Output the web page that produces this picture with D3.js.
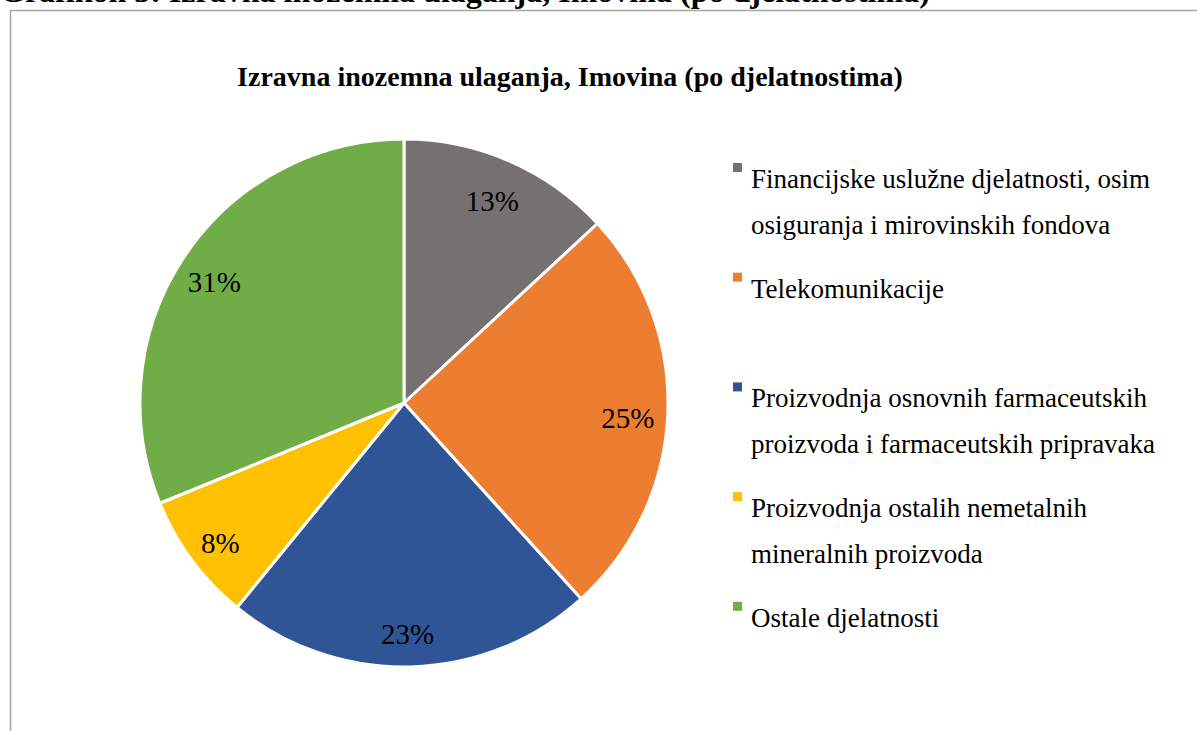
<!DOCTYPE html>
<meta charset="utf-8">
<style>
body { margin: 0; background: #fff; }
svg { display: block; font-family: "Liberation Serif", "Times New Roman", serif; }
.title { font-weight: bold; font-size: 28px; }
.pct { font-size: 29px; }
.legend text { font-size: 27px; }
</style>
<body>
<svg id="chart" width="1197" height="731"></svg>
<script src="https://d3js.org/d3.v7.min.js"></script>
<script>

// data
var categories = [
  "Financijske uslužne djelatnosti, osim osiguranja i mirovinskih fondova",
  "Telekomunikacije",
  "Proizvodnja osnovnih farmaceutskih proizvoda i farmaceutskih pripravaka",
  "Proizvodnja ostalih nemetalnih mineralnih proizvoda",
  "Ostale djelatnosti"
];
var legendLines = [
  ["Financijske uslužne djelatnosti, osim", "osiguranja i mirovinskih fondova"],
  ["Telekomunikacije"],
  ["Proizvodnja osnovnih farmaceutskih", "proizvoda i farmaceutskih pripravaka"],
  ["Proizvodnja ostalih nemetalnih", "mineralnih proizvoda"],
  ["Ostale djelatnosti"]
];
var values = [13.1, 25.2, 22.6, 7.9, 31.2];
var pctLabels = ["13%", "25%", "23%", "8%", "31%"];
var colors = ["#767171", "#ED7D31", "#2F5597", "#FFC000", "#70AD47"];

var svg = d3.select("#chart");

// chart frame (only top and left edges are inside the picture)
svg.append("path")
  .attr("d", "M10.5,731 L10.5,10.5 L1197,10.5")
  .attr("fill", "none")
  .attr("stroke", "#a6a6a6")
  .attr("stroke-width", 1.5);

// caption above the chart, cut off by the top edge as in the source page
svg.append("text")
  .attr("class", "title")
  .attr("x", 0)
  .attr("y", 1.5)
  .style("font-size", "32px")
  .text("Grafikon 3: Izravna inozemna ulaganja, Imovina (po djelatnostima)");

svg.append("text")
  .attr("class", "title")
  .attr("x", 570)
  .attr("y", 86)
  .attr("text-anchor", "middle")
  .text("Izravna inozemna ulaganja, Imovina (po djelatnostima)");

var cx = 404, cy = 403, radius = 264;

var pie = d3.pie().sort(null).value(function(d) { return d; });
var arc = d3.arc().innerRadius(0).outerRadius(radius);
var labelArc = d3.arc().innerRadius(226).outerRadius(226);

var g = svg.append("g").attr("transform", "translate(" + cx + "," + cy + ")");
var arcs = pie(values);

g.selectAll("path.slice")
  .data(arcs)
  .enter().append("path")
  .attr("class", "slice")
  .attr("d", arc)
  .attr("fill", function(d, i) { return colors[i]; })
  .attr("stroke", "#fff")
  .attr("stroke-width", 3)
  .attr("stroke-linejoin", "round");

g.selectAll("text.pct")
  .data(arcs)
  .enter().append("text")
  .attr("class", "pct")
  .attr("transform", function(d) {
    var c = labelArc.centroid(d);
    return "translate(" + (c[0] - 2) + "," + (c[1] + 5) + ")";
  })
  .attr("text-anchor", "middle")
  .attr("dy", "0.35em")
  .text(function(d, i) { return pctLabels[i]; });

// legend
var legend = svg.append("g").attr("class", "legend");
var item = legend.selectAll("g")
  .data(categories)
  .enter().append("g")
  .attr("transform", function(d, i) { return "translate(733," + (163 + i * 109.7) + ")"; });

item.append("rect")
  .attr("width", 9)
  .attr("height", 9)
  .attr("fill", function(d, i) { return colors[i]; });

item.each(function(d, i) {
  var t = d3.select(this).append("text").attr("x", 18).attr("y", 25);
  legendLines[i].forEach(function(line, j) {
    t.append("tspan").attr("x", 18).attr("y", 25 + j * 46).text(line);
  });
});

</script>
</body>
